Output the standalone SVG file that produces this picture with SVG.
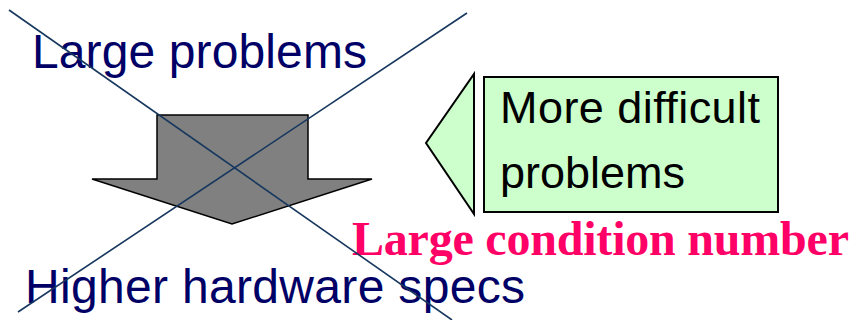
<svg xmlns="http://www.w3.org/2000/svg" width="852" height="320" viewBox="0 0 852 320">
<style>
.sans{font-family:"Liberation Sans",Arial,sans-serif}
.navy{fill:#000066;font-size:48px}
.box{fill:#CCFFCC;stroke:#000;stroke-width:2}
.cross{stroke:#17375E;stroke-width:1.6;fill:none}
</style>
<rect width="852" height="320" fill="#fff"/>
<g id="large-problems"><text class="sans navy" x="32" y="68" textLength="335">Large problems</text></g>
<g id="down-arrow"><polygon points="157,115 308,115 308,179 372,179 232,224 92,179 157,179" fill="#808080" stroke="#000" stroke-width="1.5"/></g>
<g id="higher-hardware"><text class="sans navy" x="25" y="303" textLength="500">Higher hardware specs</text></g>
<g id="difficult">
<polygon class="box" points="474,74 474,214 426,143"/>
<rect class="box" x="484" y="77" width="294" height="135" stroke-width="1.5"/>
<text class="sans" x="500" y="123" font-size="45" fill="#000" textLength="260">More difficult</text>
<text class="sans" x="500" y="188" font-size="45" fill="#000">problems</text>
</g>
<g id="condition"><text x="352" y="255" font-family="'Liberation Serif','Times New Roman',serif" font-weight="bold" font-size="48" fill="#FF0066" textLength="497">Large condition number</text></g>
<g id="connectors">
<line class="cross" x1="9" y1="10" x2="452" y2="320"/>
<line class="cross" x1="467" y1="13" x2="18" y2="312"/>
</g>
</svg>
